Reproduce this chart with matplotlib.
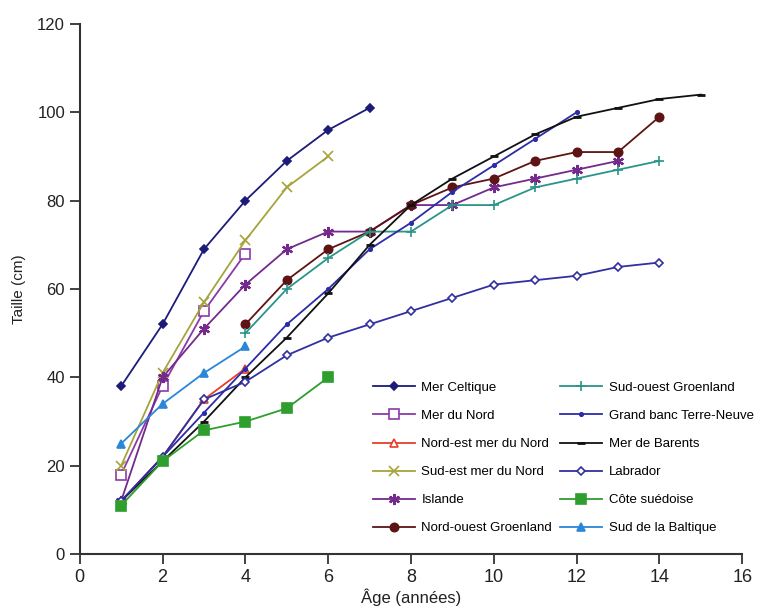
import matplotlib.pyplot as plt
import numpy as np

plt.rcParams['font.family'] = ['Liberation Sans', 'DejaVu Sans']

# Données de taille (cm) selon l'âge (années)
ages_celtique = [1, 2, 3, 4, 5, 6, 7]
taille_celtique = [38, 52, 69, 80, 89, 96, 101]

ages_nord = [1, 2, 3, 4]
taille_nord = [18, 38, 55, 68]

ages_ne_nord = [1, 2, 3, 4]
taille_ne_nord = [12, 22, 35, 42]

ages_se_nord = [1, 2, 3, 4, 5, 6]
taille_se_nord = [20, 41, 57, 71, 83, 90]

ages_islande = [1, 2, 3, 4, 5, 6, 7, 8, 9, 10, 11, 12, 13]
taille_islande = [12, 40, 51, 61, 69, 73, 73, 79, 79, 83, 85, 87, 89]

ages_no_groen = [4, 5, 6, 7, 8, 9, 10, 11, 12, 13, 14]
taille_no_groen = [52, 62, 69, 73, 79, 83, 85, 89, 91, 91, 99]

ages_so_groen = [4, 5, 6, 7, 8, 9, 10, 11, 12, 13, 14]
taille_so_groen = [50, 60, 67, 73, 73, 79, 79, 83, 85, 87, 89]

ages_grand_banc = [1, 2, 3, 4, 5, 6, 7, 8, 9, 10, 11, 12]
taille_grand_banc = [12, 22, 32, 42, 52, 60, 69, 75, 82, 88, 94, 100]

ages_barents = [1, 2, 3, 4, 5, 6, 7, 8, 9, 10, 11, 12, 13, 14, 15]
taille_barents = [12, 21, 30, 40, 49, 59, 70, 79, 85, 90, 95, 99, 101, 103, 104]

ages_labrador = [1, 2, 3, 4, 5, 6, 7, 8, 9, 10, 11, 12, 13, 14]
taille_labrador = [12, 22, 35, 39, 45, 49, 52, 55, 58, 61, 62, 63, 65, 66]

ages_suedoise = [1, 2, 3, 4, 5, 6]
taille_suedoise = [11, 21, 28, 30, 33, 40]

ages_baltique = [1, 2, 3, 4]
taille_baltique = [25, 34, 41, 47]

fig = plt.figure(figsize=(7.59, 6.13), dpi=100)
ax = fig.add_axes([0.105, 0.096, 0.873, 0.865])

def tracer(x, y, label, couleur, marker, ms=5, mfc=None, mew=1.2):
    ax.plot(x, y, color=couleur, marker=marker, markersize=ms, lw=1.3,
            markerfacecolor=mfc if mfc else couleur, markeredgecolor=couleur,
            markeredgewidth=mew, label=label)

tracer(ages_celtique, taille_celtique, "Mer Celtique", "#1c1c78", "D", ms=4.5)
tracer(ages_nord, taille_nord, "Mer du Nord", "#8a3aa8", "s", ms=7, mfc="white")
tracer(ages_ne_nord, taille_ne_nord, "Nord-est mer du Nord", "#e4402c", "^", ms=6, mfc="white")
tracer(ages_se_nord, taille_se_nord, "Sud-est mer du Nord", "#a6a43a", "x", ms=7)
tracer(ages_islande, taille_islande, "Islande", "#742a8c", (6, 2, 0), ms=8, mew=1.6)
tracer(ages_no_groen, taille_no_groen, "Nord-ouest Groenland", "#5e1414", "o", ms=6)
tracer(ages_so_groen, taille_so_groen, "Sud-ouest Groenland", "#2a9488", "+", ms=7)
tracer(ages_grand_banc, taille_grand_banc, "Grand banc Terre-Neuve", "#2c2ca8", "o", ms=2.5)
tracer(ages_barents, taille_barents, "Mer de Barents", "#111111", "_", ms=6, mew=2)
tracer(ages_labrador, taille_labrador, "Labrador", "#3030a0", "D", ms=4.5, mfc="white")
tracer(ages_suedoise, taille_suedoise, "Côte suédoise", "#2e9e2e", "s", ms=7)
tracer(ages_baltique, taille_baltique, "Sud de la Baltique", "#2a86d8", "^", ms=6)

ax.set_xlim(0, 16)
ax.set_ylim(0, 120)
ax.set_xticks(np.arange(0, 17, 2))
ax.set_yticks(np.arange(0, 121, 20))

for s in ["top", "right"]:
    ax.spines[s].set_visible(False)
for s in ["left", "bottom"]:
    ax.spines[s].set_color("#333333")
    ax.spines[s].set_linewidth(1.5)

ax.tick_params(direction="out", length=7, width=1.3, color="#333333",
               labelcolor="#222222")
ax.tick_params(axis="x", labelsize=13)
ax.tick_params(axis="y", labelsize=12)

ax.set_xlabel("Âge (années)", fontsize=12, color="#222222", labelpad=2)
ax.set_ylabel("Taille (cm)", fontsize=11, color="#222222", labelpad=8)

ax.legend(ncol=2, loc="upper left", bbox_to_anchor=(0.43, 0.34),
          frameon=False, fontsize=9.5,
          handlelength=3.2, labelspacing=1.2, columnspacing=0.6,
          handletextpad=0.5, borderaxespad=0.2)

plt.savefig("out.png", dpi=100)
